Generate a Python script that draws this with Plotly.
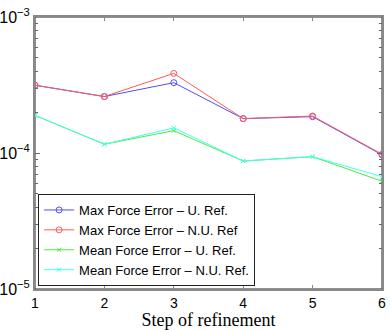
import plotly.graph_objects as go

steps = [1, 2, 3, 4, 5, 6]
max_u = [3.15e-4, 2.6e-4, 3.29e-4, 1.79e-4, 1.85e-4, 9.7e-5]
max_nu = [3.15e-4, 2.6e-4, 3.85e-4, 1.79e-4, 1.87e-4, 9.8e-5]
mean_u = [1.89e-4, 1.16e-4, 1.46e-4, 8.73e-5, 9.4e-5, 6.2e-5]
mean_nu = [1.89e-4, 1.16e-4, 1.53e-4, 8.73e-5, 9.4e-5, 6.7e-5]

y_major = [1e-5, 1e-4, 1e-3]
y_labels = ["10<sup>\u22125</sup>", "10<sup>\u22124</sup>", "10<sup>\u22123</sup>"]
y_minor = [m * d for d in (1e-5, 1e-4) for m in range(2, 10)]

series = [
    ("Max Force Error \u2013 U. Ref.", max_u, "#4d4dff", "circle-open", 6),
    ("Max Force Error \u2013 N.U. Ref", max_nu, "#ff5a5a", "circle-open", 6),
    ("Mean Force Error \u2013 U. Ref.", mean_u, "#44ee44", "x-thin-open", 4),
    ("Mean Force Error \u2013 N.U. Ref.", mean_nu, "#44ffee", "x-thin-open", 4),
]

fig = go.Figure()
for name, vals, col, sym, size in series:
    fig.add_trace(go.Scatter(
        x=steps, y=vals, name=name, mode="lines+markers",
        line=dict(color=col, width=1),
        marker=dict(symbol=sym, size=size, color=col, line=dict(color=col, width=1)),
    ))

# black frame, gray left/bottom axis lines drawn on top
fig.add_shape(type="rect", xref="paper", yref="paper", x0=0, x1=1, y0=0, y1=1,
              line=dict(color="#222", width=1), layer="below")

fig.update_layout(
    width=390, height=330,
    margin=dict(l=35, r=8, t=17, b=41),
    plot_bgcolor="white", paper_bgcolor="white",
    font=dict(family="Liberation Sans, Arial", color="black", size=14),
    showlegend=True,
    legend=dict(
        x=0.009, y=0.011, xanchor="left", yanchor="bottom",
        bgcolor="white", bordercolor="#222", borderwidth=1,
        font=dict(size=13), tracegroupgap=0,
    ),
)

fig.update_xaxes(
    range=[1, 6], tickvals=steps, ticks="inside", ticklen=4, tickcolor="#888",
    mirror="ticks", showline=True, linecolor="#888", linewidth=2,
    showgrid=False, zeroline=False, automargin=False, tickfont=dict(size=14),
    title=dict(text="Step of refinement", font=dict(family="Liberation Serif, serif", size=18), standoff=7),
)
fig.update_yaxes(
    type="log", range=[-5, -3], tickvals=y_major, ticktext=y_labels,
    ticks="inside", ticklen=5, tickcolor="#666", mirror="ticks",
    showline=True, linecolor="#888", linewidth=2, automargin=False,
    showgrid=False, zeroline=False, tickfont=dict(size=16),
    minor=dict(tickvals=y_minor, ticks="inside", ticklen=3, tickcolor="#666", showgrid=False),
)

fig.write_html("out.html", config={"displayModeBar": False},
               post_script="document.body.style.margin='0';")
